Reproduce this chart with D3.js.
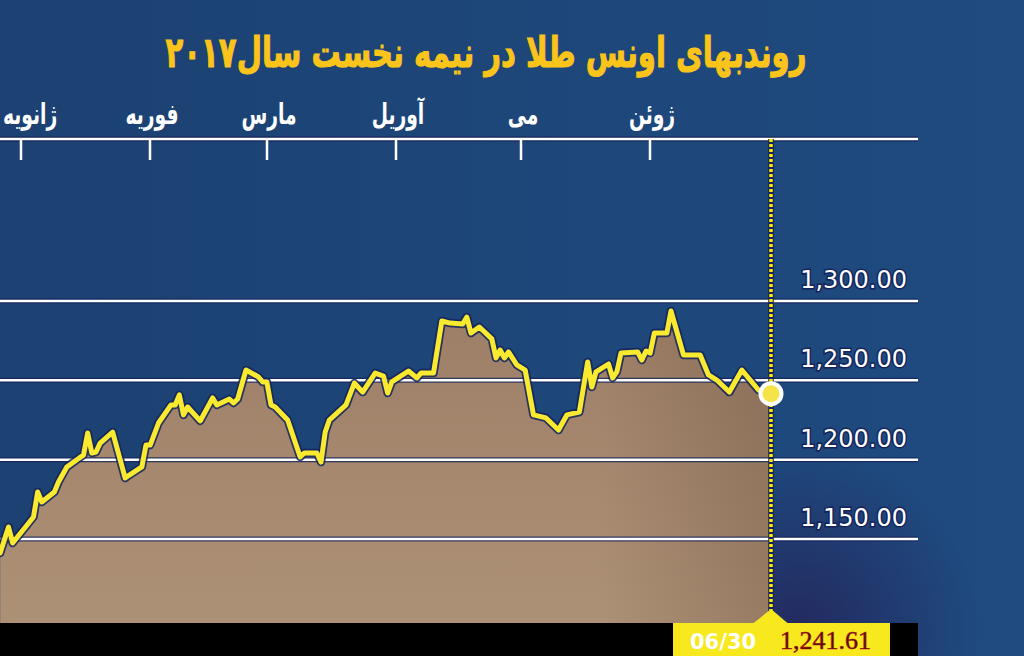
<!DOCTYPE html>
<html>
<head>
<meta charset="utf-8">
<script src="https://cdn.jsdelivr.net/npm/d3@7"></script>
<style>
  html, body { margin: 0; padding: 0; background: #1d4577; }
  svg { display: block; }
</style>
</head>
<body>
<div id="chart"></div>
<script>
// --- data ---
const title = "روندبهای اونس طلا در نیمه نخست سال۲۰۱۷";
const monthLabels = ["ژانویه", "فوریه", "مارس", "آوریل", "می", "ژوئن"];
const monthStarts = ["2017-01-01", "2017-02-01", "2017-03-01", "2017-04-01", "2017-05-01", "2017-06-01"];
const yTicks = [1150, 1200, 1250, 1300];

const dates = [
  "2016-12-27", "2016-12-29", "2016-12-30", "2017-01-04", "2017-01-05", "2017-01-06",
  "2017-01-09", "2017-01-10", "2017-01-12", "2017-01-15", "2017-01-16", "2017-01-17",
  "2017-01-18", "2017-01-19", "2017-01-20", "2017-01-23", "2017-01-26", "2017-01-27",
  "2017-01-30", "2017-01-31", "2017-02-01", "2017-02-03", "2017-02-06", "2017-02-07",
  "2017-02-08", "2017-02-09", "2017-02-10", "2017-02-13", "2017-02-16", "2017-02-17",
  "2017-02-20", "2017-02-21", "2017-02-22", "2017-02-24", "2017-02-27", "2017-02-28",
  "2017-03-01", "2017-03-02", "2017-03-03", "2017-03-06", "2017-03-09", "2017-03-10",
  "2017-03-13", "2017-03-14", "2017-03-15", "2017-03-16", "2017-03-20", "2017-03-22",
  "2017-03-24", "2017-03-27", "2017-03-29", "2017-03-30", "2017-03-31", "2017-04-04",
  "2017-04-06", "2017-04-07", "2017-04-10", "2017-04-12", "2017-04-14", "2017-04-17",
  "2017-04-18", "2017-04-19", "2017-04-21", "2017-04-24", "2017-04-25", "2017-04-26",
  "2017-04-27", "2017-04-28", "2017-04-30", "2017-05-02", "2017-05-04", "2017-05-07",
  "2017-05-10", "2017-05-12", "2017-05-15", "2017-05-17", "2017-05-18", "2017-05-19",
  "2017-05-22", "2017-05-23", "2017-05-24", "2017-05-25", "2017-05-29", "2017-05-30",
  "2017-05-31", "2017-06-01", "2017-06-02", "2017-06-05", "2017-06-06", "2017-06-09",
  "2017-06-13", "2017-06-15", "2017-06-17", "2017-06-20", "2017-06-23", "2017-06-27",
  "2017-06-30"
];
const prices = [
  1141.2, 1157.6, 1147.5, 1163.9, 1179.6, 1173.3,
  1179.6, 1185.9, 1195.4, 1201.1, 1202.9, 1216.8,
  1204.2, 1204.8, 1210.5, 1217.4, 1188.4, 1190.3,
  1195.4, 1209.2, 1209.2, 1223.1, 1234.5, 1234.5,
  1240.8, 1228.2, 1233.2, 1224.4, 1238.9, 1234.5,
  1238.2, 1235.7, 1238.2, 1256.5, 1252.1, 1249.0,
  1249.0, 1234.5, 1233.2, 1225.0, 1201.7, 1204.2,
  1204.2, 1198.5, 1217.4, 1225.0, 1234.5, 1248.3,
  1242.6, 1254.6, 1252.7, 1242.0, 1249.0, 1255.9,
  1251.5, 1254.6, 1254.6, 1287.4, 1286.1, 1285.5,
  1289.9, 1279.8, 1283.6, 1276.1, 1264.1, 1269.1,
  1264.1, 1267.9, 1259.7, 1256.5, 1228.2, 1226.3,
  1218.7, 1228.2, 1230.0, 1261.6, 1245.8, 1255.3,
  1260.3, 1251.5, 1255.3, 1267.2, 1267.9, 1262.8,
  1268.5, 1267.2, 1279.8, 1279.8, 1293.7, 1266.0,
  1266.0, 1253.4, 1250.2, 1242.6, 1256.5, 1243.9,
  1241.61
];
const lastLabel = "06/30";

const W = 1024, H = 656;
const parse = d3.utcParse("%Y-%m-%d");
const points = dates.map((d, i) => ({ date: parse(d), value: prices[i] }));
const last = points[points.length - 1];

const svg = d3.select("#chart").append("svg")
  .attr("width", W).attr("height", H);

const defs = svg.append("defs");

// fondo azul, zona oscura bajo la esquina derecha del grafico
const bgRad = defs.append("radialGradient").attr("id", "bgDark")
  .attr("gradientUnits", "userSpaceOnUse")
  .attr("cx", 800).attr("cy", 630).attr("r", 180);
bgRad.append("stop").attr("offset", "0%").attr("stop-color", "#232a60").attr("stop-opacity", 1);
bgRad.append("stop").attr("offset", "100%").attr("stop-color", "#232a60").attr("stop-opacity", 0);

const bgLin = defs.append("linearGradient").attr("id", "bgLin")
  .attr("x1", 0).attr("y1", 0).attr("x2", 1).attr("y2", 0);
bgLin.append("stop").attr("offset", "0%").attr("stop-color", "#1c4172");
bgLin.append("stop").attr("offset", "100%").attr("stop-color", "#1f4b80");

const areaGrad = defs.append("linearGradient").attr("id", "areaGrad")
  .attr("gradientUnits", "userSpaceOnUse")
  .attr("x1", 0).attr("y1", 300).attr("x2", 0).attr("y2", 623);
areaGrad.append("stop").attr("offset", "0%").attr("stop-color", "#9c7e66");
areaGrad.append("stop").attr("offset", "100%").attr("stop-color", "#ad9176");

const areaShade = defs.append("linearGradient").attr("id", "areaShade")
  .attr("gradientUnits", "userSpaceOnUse")
  .attr("x1", 600).attr("y1", 0).attr("x2", 771).attr("y2", 0);
areaShade.append("stop").attr("offset", "0%").attr("stop-color", "#4a3020").attr("stop-opacity", 0);
areaShade.append("stop").attr("offset", "100%").attr("stop-color", "#4a3020").attr("stop-opacity", 0.22);

svg.append("rect").attr("width", W).attr("height", H).attr("fill", "url(#bgLin)");
svg.append("rect").attr("width", W).attr("height", H).attr("fill", "url(#bgDark)");

// escalas
const x = d3.scaleUtc()
  .domain([parse("2017-01-01"), parse("2017-06-30")])
  .range([21, 771]);
const y = d3.scaleLinear().domain([1150, 1300]).range([539, 301]);

const plotRight = 918, plotBottom = 623, axisY = 139;
const navy = "#14245a";

// area
const area = d3.area().x(d => x(d.date)).y0(plotBottom).y1(d => y(d.value));
svg.append("path").datum(points).attr("d", area).attr("fill", "url(#areaGrad)");
svg.append("path").datum(points).attr("d", area).attr("fill", "url(#areaShade)");

// gridlines + etiquetas
const grid = svg.append("g");
yTicks.forEach(t => {
  grid.append("line").attr("x1", 0).attr("x2", plotRight)
    .attr("y1", y(t)).attr("y2", y(t))
    .attr("stroke", navy).attr("stroke-width", 5).attr("opacity", 0.8);
  grid.append("line").attr("x1", 0).attr("x2", plotRight)
    .attr("y1", y(t)).attr("y2", y(t))
    .attr("stroke", "#ffffff").attr("stroke-width", 2.5);
  grid.append("text")
    .attr("x", 907).attr("y", y(t) - 13)
    .attr("text-anchor", "end")
    .attr("font-family", "'DejaVu Sans', sans-serif")
    .attr("font-size", "24px")
    .attr("fill", "#ffffff")
    .attr("stroke", navy).attr("stroke-width", 3)
    .attr("paint-order", "stroke")
    .text(d3.format(",.2f")(t));
});

// eje superior
svg.append("line").attr("x1", 0).attr("x2", plotRight)
  .attr("y1", axisY).attr("y2", axisY)
  .attr("stroke", navy).attr("stroke-width", 5);
svg.append("line").attr("x1", 0).attr("x2", plotRight)
  .attr("y1", axisY).attr("y2", axisY)
  .attr("stroke", "#ffffff").attr("stroke-width", 2.5);

const msx = 0.85, msy = 1.3;
monthStarts.forEach((m, i) => {
  const mx = Math.round(x(parse(m)));
  svg.append("line").attr("x1", mx).attr("x2", mx)
    .attr("y1", axisY).attr("y2", 160)
    .attr("stroke", "#ffffff").attr("stroke-width", 2.5);
  const lbl = svg.append("text")
    .attr("text-anchor", "middle")
    .attr("font-family", "'DejaVu Sans', sans-serif")
    .attr("font-weight", "bold")
    .attr("font-size", "22px")
    .attr("fill", "#ffffff")
    .text(monthLabels[i]);
  const w = lbl.node().getComputedTextLength() * msx;
  const cx = Math.max(mx + 2, 3 + w / 2);
  lbl.attr("transform", `translate(${cx},124) scale(${msx},${msy})`);
});

// linea vertical punteada del ultimo dia
const lx = x(last.date);
svg.append("line").attr("x1", lx).attr("x2", lx)
  .attr("y1", axisY).attr("y2", 612)
  .attr("stroke", navy).attr("stroke-width", 5.5);
svg.append("line").attr("x1", lx).attr("x2", lx)
  .attr("y1", axisY).attr("y2", 612)
  .attr("stroke", "#ffe800").attr("stroke-width", 3.5)
  .attr("stroke-dasharray", "3 2");

// linea del precio
const line = d3.line().x(d => x(d.date)).y(d => y(d.value));
svg.append("path").datum(points).attr("d", line)
  .attr("fill", "none").attr("stroke", navy).attr("stroke-width", 8.5)
  .attr("stroke-linejoin", "round").attr("stroke-linecap", "round").attr("opacity", 0.85);
svg.append("path").datum(points).attr("d", line)
  .attr("fill", "none").attr("stroke", "#f9ea30").attr("stroke-width", 5)
  .attr("stroke-linejoin", "round").attr("stroke-linecap", "round");

// punto final
svg.append("circle").attr("cx", lx).attr("cy", y(last.value)).attr("r", 12.5)
  .attr("fill", "#ffffff");
svg.append("circle").attr("cx", lx).attr("cy", y(last.value)).attr("r", 8.5)
  .attr("fill", "#f5e448");

// barra inferior
svg.append("rect").attr("x", 0).attr("y", plotBottom)
  .attr("width", plotRight).attr("height", H - plotBottom).attr("fill", "#000000");
svg.append("rect").attr("x", 673).attr("y", plotBottom)
  .attr("width", 217).attr("height", H - plotBottom).attr("fill", "#f8e81e");
svg.append("path")
  .attr("d", `M${lx - 18},${plotBottom + 0.5} L${lx},${609} L${lx + 17},${plotBottom + 0.5} Z`)
  .attr("fill", "#f8e81e");

svg.append("text")
  .attr("x", 690).attr("y", 649)
  .attr("font-family", "'DejaVu Sans', sans-serif")
  .attr("font-weight", "bold")
  .attr("font-size", "21px")
  .attr("fill", "#ffffff")
  .text(lastLabel);
svg.append("text")
  .attr("x", 780).attr("y", 649)
  .attr("font-family", "'Liberation Serif', serif")
  .attr("font-size", "26px")
  .attr("fill", "#4a0c0c")
  .attr("stroke", "#b01818").attr("stroke-width", 0.6)
  .text(d3.format(",.2f")(last.value));

// titulo
const tt = svg.append("text")
  .attr("text-anchor", "middle")
  .attr("font-family", "'DejaVu Sans', sans-serif")
  .attr("font-weight", "bold")
  .attr("font-size", "40px")
  .attr("fill", "#fbc41a")
  .attr("stroke", "#fbc41a").attr("stroke-width", 1)
  .text(title);
const tw = tt.node().getComputedTextLength();
const tsx = tw > 0 ? 641 / tw : 1;
tt.attr("transform", `translate(486,67) scale(${tsx},${tsx * 1.45})`);
</script>
</body>
</html>
